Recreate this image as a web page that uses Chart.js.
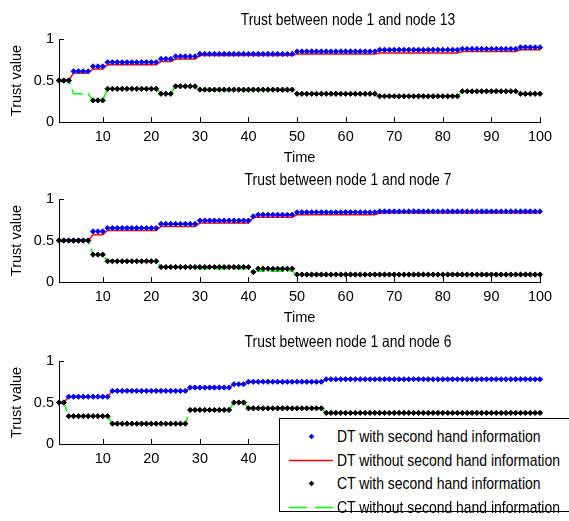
<!DOCTYPE html>
<html><head><meta charset="utf-8">
<script src="https://cdn.jsdelivr.net/npm/chart.js@4.4.1/dist/chart.umd.min.js"></script>
<style>
html,body{margin:0;padding:0;background:#fff;}
body{width:569px;height:521px;position:relative;overflow:hidden;}
canvas.c{position:absolute;left:0;}
#legend{position:absolute;left:279px;top:418px;width:300px;height:92px;border:1px solid #000;background:#fff;font-family:'Liberation Sans',Arial,sans-serif;font-size:17px;color:#000;}
.row{position:absolute;left:0;width:300px;height:22px;}
.row svg{position:absolute;left:0;top:0;}
.row span{position:absolute;left:57px;top:1px;line-height:20px;white-space:nowrap;transform:scaleX(0.82);transform-origin:0 50%;}
</style></head><body>
<canvas id="c1" class="c" width="569" height="170" style="top:0px"></canvas>
<canvas id="c2" class="c" width="569" height="170" style="top:160px"></canvas>
<canvas id="c3" class="c" width="569" height="170" style="top:322px"></canvas>
<div id="legend"></div>
<script>
const time = [1,2,3,4,5,6,7,8,9,10,11,12,13,14,15,16,17,18,19,20,21,22,23,24,25,26,27,28,29,30,31,32,33,34,35,36,37,38,39,40,41,42,43,44,45,46,47,48,49,50,51,52,53,54,55,56,57,58,59,60,61,62,63,64,65,66,67,68,69,70,71,72,73,74,75,76,77,78,79,80,81,82,83,84,85,86,87,88,89,90,91,92,93,94,95,96,97,98,99,100];
const xTicks = [10,20,30,40,50,60,70,80,90,100];
const yTicks = [0,0.5,1];
const yTickLabels = ['0','0.5','1'];
const plotTitles = ['Trust between node 1 and node 13','Trust between node 1 and node 7','Trust between node 1 and node 6'];
const seriesNames = ['DT with second hand information','DT without second hand information','CT with second hand information','CT without second hand information'];
const xTitle = 'Time';
const yTitle = 'Trust value';

// Node 13
const dtWith13 = [0.5,0.5,0.5,0.61,0.61,0.61,0.61,0.67,0.67,0.67,0.72,0.72,0.72,0.72,0.72,0.72,0.72,0.72,0.72,0.72,0.72,0.76,0.76,0.76,0.79,0.79,0.79,0.79,0.79,0.82,0.82,0.82,0.82,0.82,0.82,0.82,0.82,0.82,0.82,0.82,0.82,0.82,0.82,0.82,0.82,0.82,0.82,0.82,0.82,0.85,0.85,0.85,0.85,0.85,0.85,0.85,0.85,0.85,0.85,0.85,0.85,0.85,0.85,0.85,0.85,0.85,0.87,0.87,0.87,0.87,0.87,0.87,0.87,0.87,0.87,0.87,0.87,0.87,0.87,0.87,0.87,0.87,0.87,0.88,0.88,0.88,0.88,0.88,0.88,0.88,0.88,0.88,0.88,0.88,0.88,0.90,0.90,0.90,0.90,0.90];
const dtWithout13 = [0.5,0.5,0.5,0.59,0.59,0.59,0.59,0.64,0.64,0.64,0.69,0.69,0.69,0.69,0.69,0.69,0.69,0.69,0.69,0.69,0.69,0.73,0.73,0.73,0.76,0.76,0.76,0.76,0.76,0.80,0.80,0.80,0.80,0.80,0.80,0.80,0.80,0.80,0.80,0.80,0.80,0.80,0.80,0.80,0.80,0.80,0.80,0.80,0.80,0.82,0.82,0.82,0.82,0.82,0.82,0.82,0.82,0.82,0.82,0.82,0.82,0.82,0.82,0.82,0.82,0.82,0.83,0.83,0.83,0.83,0.83,0.83,0.83,0.83,0.83,0.83,0.83,0.83,0.83,0.83,0.83,0.83,0.83,0.85,0.85,0.85,0.85,0.85,0.85,0.85,0.85,0.85,0.85,0.85,0.85,0.87,0.87,0.87,0.87,0.87];
const ctWith13 = [0.5,0.5,0.5,null,null,null,null,0.26,0.26,0.26,0.40,0.40,0.40,0.40,0.40,0.40,0.40,0.40,0.40,0.40,0.40,0.34,0.34,0.34,0.43,0.43,0.43,0.43,0.43,0.39,0.39,0.39,0.39,0.39,0.39,0.39,0.39,0.39,0.39,0.39,0.39,0.39,0.39,0.39,0.39,0.39,0.39,0.39,0.39,0.34,0.34,0.34,0.34,0.34,0.34,0.34,0.34,0.34,0.34,0.34,0.34,0.34,0.34,0.34,0.34,0.34,0.31,0.31,0.31,0.31,0.31,0.31,0.31,0.31,0.31,0.31,0.31,0.31,0.31,0.31,0.31,0.31,0.31,0.37,0.37,0.37,0.37,0.37,0.37,0.37,0.37,0.37,0.37,0.37,0.37,0.34,0.34,0.34,0.34,0.34];
const ctWithout13 = [0.5,0.5,0.5,0.34,0.34,0.34,0.34,0.26,0.26,0.26,0.40,0.40,0.40,0.40,0.40,0.40,0.40,0.40,0.40,0.40,0.40,0.34,0.34,0.34,0.43,0.43,0.43,0.43,0.43,0.38,0.38,0.38,0.38,0.38,0.38,0.38,0.38,0.38,0.38,0.38,0.38,0.38,0.38,0.38,0.38,0.38,0.38,0.38,0.38,0.34,0.34,0.34,0.34,0.34,0.34,0.34,0.34,0.34,0.34,0.34,0.34,0.34,0.34,0.34,0.34,0.34,0.31,0.31,0.31,0.31,0.31,0.31,0.31,0.31,0.31,0.31,0.31,0.31,0.31,0.31,0.31,0.31,0.31,0.37,0.37,0.37,0.37,0.37,0.37,0.37,0.37,0.37,0.37,0.37,0.37,0.34,0.34,0.34,0.34,0.34];

// Node 7
const dtWith7 = [0.5,0.5,0.5,0.5,0.5,0.5,0.5,0.61,0.61,0.61,0.65,0.65,0.65,0.65,0.65,0.65,0.65,0.65,0.65,0.65,0.65,0.70,0.70,0.70,0.70,0.70,0.70,0.70,0.70,0.74,0.74,0.74,0.74,0.74,0.74,0.74,0.74,0.74,0.74,0.74,0.79,0.81,0.81,0.81,0.81,0.81,0.81,0.81,0.81,0.84,0.84,0.84,0.84,0.84,0.84,0.84,0.84,0.84,0.84,0.84,0.84,0.84,0.84,0.84,0.84,0.84,0.85,0.85,0.85,0.85,0.85,0.85,0.85,0.85,0.85,0.85,0.85,0.85,0.85,0.85,0.85,0.85,0.85,0.85,0.85,0.85,0.85,0.85,0.85,0.85,0.85,0.85,0.85,0.85,0.85,0.85,0.85,0.85,0.85,0.85];
const dtWithout7 = [0.5,0.5,0.5,0.5,0.5,0.5,0.5,0.57,0.57,0.57,0.62,0.62,0.62,0.62,0.62,0.62,0.62,0.62,0.62,0.62,0.62,0.67,0.67,0.67,0.67,0.67,0.67,0.67,0.67,0.71,0.71,0.71,0.71,0.71,0.71,0.71,0.71,0.71,0.71,0.71,0.78,0.78,0.78,0.78,0.78,0.78,0.78,0.78,0.78,0.81,0.81,0.81,0.81,0.81,0.81,0.81,0.81,0.81,0.81,0.81,0.81,0.81,0.81,0.81,0.81,0.81,0.83,0.83,0.83,0.83,0.83,0.83,0.83,0.83,0.83,0.83,0.83,0.83,0.83,0.83,0.83,0.83,0.83,0.83,0.83,0.83,0.83,0.83,0.83,0.83,0.83,0.83,0.83,0.83,0.83,0.83,0.83,0.83,0.83,0.83];
const ctWith7 = [0.5,0.5,0.5,0.5,0.5,0.5,0.5,0.33,0.33,0.33,0.25,0.25,0.25,0.25,0.25,0.25,0.25,0.25,0.25,0.25,0.25,0.18,0.18,0.18,0.18,0.18,0.18,0.18,0.18,0.18,0.18,0.18,0.18,0.18,0.18,0.18,0.18,0.18,0.18,0.18,0.12,0.16,0.16,0.16,0.16,0.16,0.16,0.16,0.16,0.09,0.09,0.09,0.09,0.09,0.09,0.09,0.09,0.09,0.09,0.09,0.09,0.09,0.09,0.09,0.09,0.09,0.09,0.09,0.09,0.09,0.09,0.09,0.09,0.09,0.09,0.09,0.09,0.09,0.09,0.09,0.09,0.09,0.09,0.09,0.09,0.09,0.09,0.09,0.09,0.09,0.09,0.09,0.09,0.09,0.09,0.09,0.09,0.09,0.09,0.09];
const ctWithout7 = [0.5,0.5,0.5,0.5,0.5,0.5,0.5,0.33,0.33,0.33,0.25,0.25,0.25,0.25,0.25,0.25,0.25,0.25,0.25,0.25,0.25,0.18,0.18,0.18,0.18,0.18,0.18,0.18,0.18,0.16,0.16,0.16,0.16,0.16,0.16,0.16,0.16,0.16,0.16,0.16,0.13,0.13,0.13,0.13,0.13,0.13,0.13,0.13,0.13,0.09,0.09,0.09,0.09,0.09,0.09,0.09,0.09,0.09,0.09,0.09,0.09,0.09,0.09,0.09,0.09,0.09,0.09,0.09,0.09,0.09,0.09,0.09,0.09,0.09,0.09,0.09,0.09,0.09,0.09,0.09,0.09,0.09,0.09,0.09,0.09,0.09,0.09,0.09,0.09,0.09,0.09,0.09,0.09,0.09,0.09,0.09,0.09,0.09,0.09,0.09];

// Node 6
const dtWith6 = [0.5,0.5,0.57,0.57,0.57,0.57,0.57,0.57,0.57,0.57,0.57,0.64,0.64,0.64,0.64,0.64,0.64,0.64,0.64,0.64,0.64,0.64,0.64,0.64,0.64,0.64,0.64,0.68,0.68,0.68,0.68,0.68,0.68,0.68,0.68,0.68,0.72,0.72,0.72,0.75,0.75,0.75,0.75,0.75,0.75,0.75,0.75,0.75,0.75,0.75,0.75,0.75,0.75,0.75,0.75,0.78,0.78,0.78,0.78,0.78,0.78,0.78,0.78,0.78,0.78,0.78,0.78,0.78,0.78,0.78,0.78,0.78,0.78,0.78,0.78,0.78,0.78,0.78,0.78,0.78,0.78,0.78,0.78,0.78,0.78,0.78,0.78,0.78,0.78,0.78,0.78,0.78,0.78,0.78,0.78,0.78,0.78,0.78,0.78,0.78];
const dtWithout6 = [0.5,0.5,0.57,0.57,0.57,0.57,0.57,0.57,0.57,0.57,0.57,0.64,0.64,0.64,0.64,0.64,0.64,0.64,0.64,0.64,0.64,0.64,0.64,0.64,0.64,0.64,0.64,0.68,0.68,0.68,0.68,0.68,0.68,0.68,0.68,0.68,0.72,0.72,0.72,0.75,0.75,0.75,0.75,0.75,0.75,0.75,0.75,0.75,0.75,0.75,0.75,0.75,0.75,0.75,0.75,0.78,0.78,0.78,0.78,0.78,0.78,0.78,0.78,0.78,0.78,0.78,0.78,0.78,0.78,0.78,0.78,0.78,0.78,0.78,0.78,0.78,0.78,0.78,0.78,0.78,0.78,0.78,0.78,0.78,0.78,0.78,0.78,0.78,0.78,0.78,0.78,0.78,0.78,0.78,0.78,0.78,0.78,0.78,0.78,0.78];
const ctWith6 = [0.5,0.5,0.335,0.335,0.335,0.335,0.335,0.335,0.335,0.335,0.335,0.245,0.245,0.245,0.245,0.245,0.245,0.245,0.245,0.245,0.245,0.245,0.245,0.245,0.245,0.245,0.245,0.41,0.41,0.41,0.41,0.41,0.41,0.41,0.41,0.41,0.5,0.5,0.5,0.43,0.43,0.43,0.43,0.43,0.43,0.43,0.43,0.43,0.43,0.43,0.43,0.43,0.43,0.43,0.43,0.375,0.375,0.375,0.375,0.375,0.375,0.375,0.375,0.375,0.375,0.375,0.375,0.375,0.375,0.375,0.375,0.375,0.375,0.375,0.375,0.375,0.375,0.375,0.375,0.375,0.375,0.375,0.375,0.375,0.375,0.375,0.375,0.375,0.375,0.375,0.375,0.375,0.375,0.375,0.375,0.375,0.375,0.375,0.375,0.375];
const ctWithout6 = [0.5,0.5,0.335,0.335,0.335,0.335,0.335,0.335,0.335,0.335,0.335,0.245,0.245,0.245,0.245,0.245,0.245,0.245,0.245,0.245,0.245,0.245,0.245,0.245,0.245,0.245,0.245,0.41,0.41,0.41,0.41,0.41,0.41,0.41,0.41,0.41,0.5,0.5,0.5,0.43,0.43,0.43,0.43,0.43,0.43,0.43,0.43,0.43,0.43,0.43,0.43,0.43,0.43,0.43,0.43,0.375,0.375,0.375,0.375,0.375,0.375,0.375,0.375,0.375,0.375,0.375,0.375,0.375,0.375,0.375,0.375,0.375,0.375,0.375,0.375,0.375,0.375,0.375,0.375,0.375,0.375,0.375,0.375,0.375,0.375,0.375,0.375,0.375,0.375,0.375,0.375,0.375,0.375,0.375,0.375,0.375,0.375,0.375,0.375,0.375];

const FONT_FAMILY = "'Liberation Sans',Arial,sans-serif";
const BLUE = '#0000ff', RED = '#ff0000', BLACK = '#000000', GREEN = '#00ff00';

const inwardTicks = {
  id: 'inwardTicks',
  afterDraw(chart) {
    const {ctx, chartArea: a, scales: {x, y}} = chart;
    ctx.save();
    ctx.strokeStyle = '#000';
    ctx.lineWidth = 1;
    ctx.beginPath();
    x.ticks.forEach(t => { const px = Math.round(x.getPixelForValue(t.value)) + 0.5; ctx.moveTo(px, a.bottom); ctx.lineTo(px, a.bottom - 5); });
    y.ticks.forEach(t => { const py = Math.round(y.getPixelForValue(t.value)) + 0.5; ctx.moveTo(a.left, py); ctx.lineTo(a.left + 5, py); });
    ctx.stroke();
    ctx.restore();
  }
};

const plotTitle = {
  id: 'plotTitle',
  afterDraw(chart, args, opts) {
    const ctx = chart.ctx;
    ctx.save();
    ctx.fillStyle = '#000';
    ctx.font = opts.size + 'px ' + FONT_FAMILY;
    ctx.textAlign = 'center';
    ctx.textBaseline = 'middle';
    ctx.translate(opts.x, opts.y);
    ctx.scale(opts.stretch, 1);
    ctx.fillText(opts.text, 0, 0);
    ctx.restore();
  }
};

function makeChart(id, title, dtW, dtWo, ctW, ctWo) {
  const font = {family: FONT_FAMILY, size: 14.5};
  return new Chart(document.getElementById(id), {
    type: 'line',
    data: {
      labels: time,
      datasets: [
        {label: seriesNames[2], data: ctW, showLine: false, pointStyle: 'rectRot', pointRadius: 2.6, pointBackgroundColor: BLACK, pointBorderColor: BLACK, pointBorderWidth: 1, borderColor: BLACK, clip: false},
        {label: seriesNames[0], data: dtW, showLine: false, pointStyle: 'rectRot', pointRadius: 2.6, pointBackgroundColor: BLUE, pointBorderColor: BLUE, pointBorderWidth: 1, borderColor: BLUE, clip: false},
        {label: seriesNames[3], data: ctWo, borderColor: GREEN, borderWidth: 1.5, borderDash: [14, 5], pointRadius: 0, fill: false, tension: 0, clip: false},
        {label: seriesNames[1], data: dtWo, borderColor: RED, borderWidth: 1.5, pointRadius: 0, fill: false, tension: 0, clip: false}
      ]
    },
    options: {
      responsive: false,
      animation: false,
      events: [],
      layout: {padding: {left: 0, top: 39, right: 29, bottom: 0}},
      plugins: {
        legend: {display: false},
        tooltip: {enabled: false},
        title: {display: false},
        plotTitle: {text: title, x: 348, y: 20, size: 16.5, stretch: 0.84}
      },
      scales: {
        x: {
          type: 'linear', min: 1, max: 100,
          afterBuildTicks: s => { s.ticks = xTicks.map(v => ({value: v})); },
          afterFit: s => { s.height = 48; },
          ticks: {autoSkip: false, maxRotation: 0, padding: 6, font: font, color: '#000', callback: v => String(v)},
          grid: {display: false, drawTicks: false},
          border: {display: true, color: '#000', width: 1},
          title: {display: true, text: xTitle, font: font, color: '#000', padding: {top: 0, bottom: 3}}
        },
        y: {
          min: 0, max: 1,
          afterBuildTicks: s => { s.ticks = yTicks.map(v => ({value: v})); },
          afterFit: s => { s.width = 59; },
          ticks: {autoSkip: false, padding: 5, font: font, color: '#000', callback: v => yTickLabels[yTicks.indexOf(v)]},
          grid: {display: false, drawTicks: false},
          border: {display: true, color: '#000', width: 1},
          title: {display: true, text: yTitle, font: font, color: '#000', padding: {top: 8, bottom: 0}}
        }
      }
    },
    plugins: [inwardTicks, plotTitle]
  });
}

makeChart('c1', plotTitles[0], dtWith13, dtWithout13, ctWith13, ctWithout13);
makeChart('c2', plotTitles[1], dtWith7, dtWithout7, ctWith7, ctWithout7);
makeChart('c3', plotTitles[2], dtWith6, dtWithout6, ctWith6, ctWithout6);

// Legend
const legendSamples = [
  '<svg width="56" height="22"><rect x="29.5" y="8.5" width="4" height="4" transform="rotate(45 31.5 10.5)" fill="' + BLUE + '"/></svg>',
  '<svg width="56" height="22"><line x1="9" y1="10.5" x2="53" y2="10.5" stroke="' + RED + '" stroke-width="1.5"/></svg>',
  '<svg width="56" height="22"><rect x="29.5" y="8.5" width="4" height="4" transform="rotate(45 31.5 10.5)" fill="' + BLACK + '"/></svg>',
  '<svg width="56" height="22"><line x1="9" y1="10.5" x2="53" y2="10.5" stroke="' + GREEN + '" stroke-width="1.5" stroke-dasharray="18 8"/></svg>'
];
const rowTops = [7, 30.5, 54, 77.5];
const leg = document.getElementById('legend');
seriesNames.forEach((name, i) => {
  const row = document.createElement('div');
  row.className = 'row';
  row.style.top = rowTops[i] + 'px';
  row.innerHTML = legendSamples[i] + '<span></span>';
  row.querySelector('span').textContent = name;
  leg.appendChild(row);
});
</script>
</body></html>
